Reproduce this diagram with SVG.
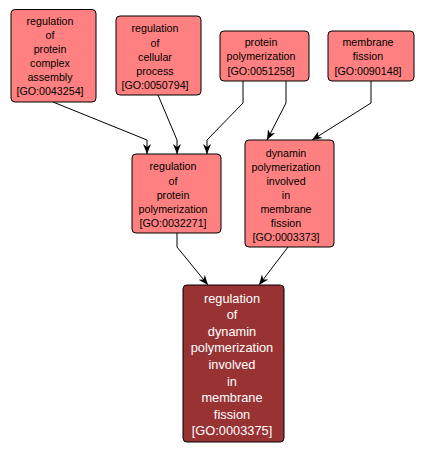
<svg xmlns="http://www.w3.org/2000/svg" width="424" height="453" viewBox="0 0 424 453">
<style>
.n rect{fill:#ff8080;stroke:#000;stroke-width:1}
.n text{font-family:"Liberation Sans",Arial,sans-serif;font-size:10.7px;fill:#000;text-anchor:middle}
.m rect{fill:#993333;stroke:#000;stroke-width:1}
.m text{font-family:"Liberation Sans",Arial,sans-serif;font-size:12.8px;fill:#fff;text-anchor:middle}
.e path{fill:none;stroke:#000;stroke-width:1}
</style>
<defs>
<marker id="ah" viewBox="0 0 10 10" refX="10" refY="5" markerWidth="10" markerHeight="10" markerUnits="userSpaceOnUse" orient="auto">
<path d="M0,1 L10,5 L0,9 L3,5 Z" fill="#000"/>
</marker>
</defs>
<rect width="424" height="453" fill="#fff"/>
<g id="edges" class="e">
<path d="M53,102 L147,140 L147,154" marker-end="url(#ah)"/>
<path d="M158,95 L177,140 L177,154" marker-end="url(#ah)"/>
<path d="M243,81 L243,103 L207,140 L207,154" marker-end="url(#ah)"/>
<path d="M286,81 L286,103 L267,140" marker-end="url(#ah)"/>
<path d="M371,81 L371,103 L312,140" marker-end="url(#ah)"/>
<path d="M177,233 L177,247 L208,285" marker-end="url(#ah)"/>
<path d="M288,247 L259,285" marker-end="url(#ah)"/>
</g>
<g id="GO0043254" class="n">
<rect x="11" y="9.5" width="85" height="92.5" rx="4"/>
<text x="50" y="25">regulation</text>
<text x="50" y="39">of</text>
<text x="50" y="53">protein</text>
<text x="50" y="67">complex</text>
<text x="50" y="81">assembly</text>
<text x="50" y="95">[GO:0043254]</text>
</g>
<g id="GO0050794" class="n">
<rect x="116" y="16" width="85" height="79" rx="4"/>
<text x="155" y="32">regulation</text>
<text x="155" y="46.5">of</text>
<text x="155" y="61">cellular</text>
<text x="155" y="75">process</text>
<text x="155" y="89">[GO:0050794]</text>
</g>
<g id="GO0051258" class="n">
<rect x="220" y="31" width="89" height="50" rx="4"/>
<text x="261" y="46">protein</text>
<text x="261" y="60">polymerization</text>
<text x="261" y="75">[GO:0051258]</text>
</g>
<g id="GO0090148" class="n">
<rect x="328" y="31" width="86" height="50" rx="4"/>
<text x="368" y="46">membrane</text>
<text x="368" y="60">fission</text>
<text x="368" y="75">[GO:0090148]</text>
</g>
<g id="GO0032271" class="n">
<rect x="132" y="154" width="89" height="79" rx="4"/>
<text x="173" y="170">regulation</text>
<text x="173" y="185">of</text>
<text x="173" y="199">protein</text>
<text x="173" y="213">polymerization</text>
<text x="173" y="227">[GO:0032271]</text>
</g>
<g id="GO0003373" class="n">
<rect x="245" y="140" width="89" height="107" rx="4"/>
<text x="286" y="157">dynamin</text>
<text x="286" y="171">polymerization</text>
<text x="286" y="185">involved</text>
<text x="286" y="199">in</text>
<text x="286" y="213">membrane</text>
<text x="286" y="227">fission</text>
<text x="286" y="241">[GO:0003373]</text>
</g>
<g id="GO0003375" class="m">
<rect x="183" y="285" width="101" height="157" rx="4"/>
<text x="232" y="302.5">regulation</text>
<text x="232" y="319">of</text>
<text x="232" y="335.5">dynamin</text>
<text x="232" y="352">polymerization</text>
<text x="232" y="369">involved</text>
<text x="232" y="385.5">in</text>
<text x="232" y="402">membrane</text>
<text x="232" y="418.5">fission</text>
<text x="232" y="435">[GO:0003375]</text>
</g>
</svg>
